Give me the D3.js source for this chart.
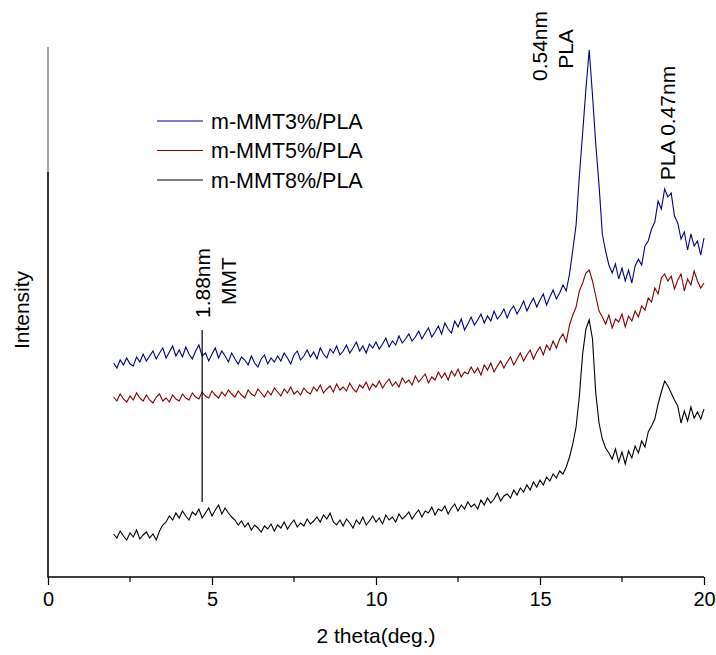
<!DOCTYPE html>
<html>
<head>
<meta charset="utf-8">
<script src="https://cdn.jsdelivr.net/npm/d3@7"></script>
<style>
  body { margin: 0; background: #fff; }
  text { font-family: Arial, "Liberation Sans", sans-serif; fill: #000; }
</style>
</head>
<body>
<script>
// XRD scan: 2 theta from 2 to 20 deg, step 0.1
var scanStart = 2.0, scanStep = 0.1;

var blue3 = [214,209,217,212,219,213,211,220,215,223,
  216,221,226,218,224,229,219,225,231,221,
  227,220,230,223,218,226,232,221,224,216,
  223,229,219,226,221,215,224,218,213,220,
  217,212,221,214,210,218,222,213,219,215,
  221,216,224,219,213,222,226,217,221,227,
  220,225,218,229,223,219,228,224,231,222,
  226,232,224,229,235,226,231,224,233,229,
  235,228,233,239,230,236,232,241,234,238,
  243,236,240,246,238,244,249,240,245,251,
  243,254,248,244,256,250,258,247,253,260,
  252,257,263,254,261,256,266,258,262,268,
  259,267,271,263,269,276,266,273,279,270,
  277,283,272,280,287,278,284,292,286,303,
  327,352,401,444,488,527,482,433,392,343,
  326,312,304,313,298,309,296,307,294,311,
  318,312,331,336,348,355,376,368,388,380,
  384,361,354,338,345,327,343,331,336,322,
  339];

var red5 = [180,176,183,178,175,181,177,184,179,176,
  182,177,174,180,183,176,179,175,182,178,
  176,183,179,177,184,180,178,185,181,179,
  186,182,179,185,181,187,183,180,186,182,
  179,187,183,181,188,184,180,186,182,189,
  185,181,188,184,190,183,186,182,189,185,
  183,190,186,192,184,188,191,185,193,187,
  190,186,194,188,185,192,189,195,187,193,
  190,196,189,194,198,191,195,190,199,194,
  197,192,201,195,199,203,194,200,197,205,
  199,204,197,206,201,208,200,205,203,210,
  204,209,202,212,207,214,205,211,216,209,
  215,220,212,218,224,216,222,227,218,225,
  230,222,232,227,236,229,238,243,235,252,
  262,270,286,294,304,307,296,281,266,260,
  253,262,249,258,255,263,250,261,256,266,
  260,271,267,279,275,289,283,299,303,296,
  301,288,297,303,286,298,292,306,296,289,
  294];

var black8 = [43,39,46,41,37,44,40,47,38,42,
  45,39,43,37,46,52,55,61,57,64,
  59,66,61,57,65,62,68,59,64,69,
  61,67,72,63,69,64,60,57,52,56,
  50,54,47,52,49,45,51,48,53,46,
  52,49,55,48,53,57,50,54,51,58,
  53,56,60,55,62,58,64,55,52,57,
  51,58,54,49,57,53,60,52,56,61,
  55,59,53,62,57,60,55,63,58,61,
  65,58,63,67,60,66,64,70,62,68,
  66,71,63,69,73,66,72,68,75,70,
  73,68,77,72,79,74,78,84,76,81,
  83,79,87,82,89,85,92,87,95,90,
  97,92,100,96,103,99,106,103,110,120,
  133,150,181,223,248,257,238,184,154,138,
  129,124,118,128,115,125,113,126,119,131,
  124,136,130,145,151,158,173,185,196,191,
  184,177,171,154,166,156,170,159,165,158,
  168];

var seriesNames = ["m-MMT3%/PLA", "m-MMT5%/PLA", "m-MMT8%/PLA"];
var seriesColors = ["#000080", "#800000", "#000000"];
var xTicks = [0, 5, 10, 15, 20];
var xMinorTicks = [2.5, 7.5, 12.5, 17.5];

var width = 716, height = 655;
var margin = {top: 47, bottom: 78, left: 48, right: 12};

var svg = d3.select("body").append("svg")
    .attr("width", width)
    .attr("height", height);

var x = d3.scaleLinear().domain([0, 20]).range([margin.left, width - margin.right]);
var y = d3.scaleLinear().domain([0, 530]).range([height - margin.bottom, margin.top]);

// curves
var line = d3.line()
    .x(function(d, i) { return x(scanStart + i * scanStep); })
    .y(function(d) { return y(d); });

[blue3, red5, black8].forEach(function(s, k) {
    svg.append("path")
        .datum(s)
        .attr("fill", "none")
        .attr("stroke", seriesColors[k])
        .attr("stroke-width", 1.1)
        .attr("d", line);
});

// axes
var y0 = y(0);
svg.append("line")
    .attr("x1", x(0)).attr("x2", x(0))
    .attr("y1", y(530)).attr("y2", y(405))
    .attr("stroke", "#888").attr("stroke-width", 1.5);
svg.append("line")
    .attr("x1", x(0)).attr("x2", x(0))
    .attr("y1", y(405)).attr("y2", y0 + 0.75)
    .attr("stroke", "#000").attr("stroke-width", 1.6);

var xAxis = d3.axisBottom(x).tickValues(xTicks).tickSize(8).tickPadding(7)
    .tickFormat(d3.format("d"));
var gx = svg.append("g")
    .attr("transform", "translate(0," + y0 + ")")
    .call(xAxis);
gx.select(".domain").remove();
gx.append("line")
    .attr("x1", x(0)).attr("x2", x(20))
    .attr("stroke", "#000").attr("stroke-width", 1.5);
gx.selectAll(".tick line").attr("stroke", "#000").attr("stroke-width", 1.2);
gx.selectAll(".tick text")
    .style("font-size", "20px")
    .style("font-family", "Arial, 'Liberation Sans', sans-serif")
    .attr("fill", "#000");
gx.selectAll(".minor")
    .data(xMinorTicks)
    .enter().append("line")
    .attr("x1", function(d) { return x(d); })
    .attr("x2", function(d) { return x(d); })
    .attr("y1", 0).attr("y2", 5)
    .attr("stroke", "#000").attr("stroke-width", 1.2);

svg.append("text")
    .attr("x", x(10)).attr("y", 643)
    .attr("text-anchor", "middle")
    .style("font-size", "21px")
    .text("2 theta(deg.)");

svg.append("text")
    .attr("text-anchor", "middle")
    .attr("dy", "0.35em")
    .attr("transform", "translate(22,310)rotate(-90)")
    .style("font-size", "21px")
    .text("Intensity");

// legend
var legend = svg.append("g");
seriesNames.forEach(function(name, k) {
    var ly = 121 + k * 29.5;
    legend.append("line")
        .attr("x1", 157).attr("x2", 203)
        .attr("y1", ly).attr("y2", ly)
        .attr("stroke", seriesColors[k]).attr("stroke-width", 1.1);
    legend.append("text")
        .attr("x", 211).attr("y", ly)
        .attr("dy", "0.35em")
        .style("font-size", "21.5px")
        .text(name);
});

// peak annotations
svg.append("line")
    .attr("x1", x(4.7)).attr("x2", x(4.7))
    .attr("y1", y(247)).attr("y2", y(75))
    .attr("stroke", "#000").attr("stroke-width", 1.2);

function rotLabel(cx, cy, txt) {
    svg.append("text")
        .attr("text-anchor", "middle")
        .attr("dy", "0.35em")
        .attr("transform", "translate(" + cx + "," + cy + ")rotate(-90)")
        .style("font-size", "21px")
        .text(txt);
}
rotLabel(203, 283, "1.88nm");
rotLabel(229, 281, "MMT");
rotLabel(540, 46, "0.54nm");
rotLabel(566, 49, "PLA");
rotLabel(668, 123, "PLA 0.47nm");
</script>
</body>
</html>
